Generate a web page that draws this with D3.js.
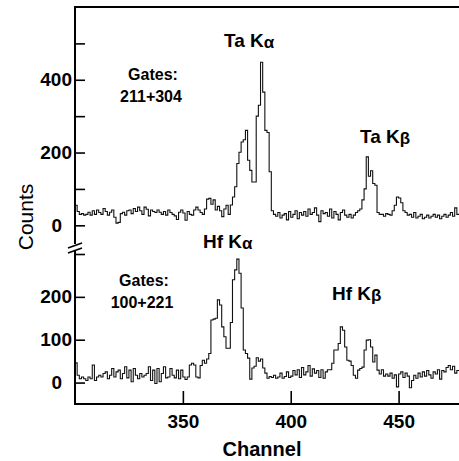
<!DOCTYPE html>
<html>
<head>
<meta charset="utf-8">
<script src="https://cdn.jsdelivr.net/npm/d3@7"></script>
<style>
  body { margin: 0; background: #fff; }
  text { font-family: "Liberation Sans", Arial, sans-serif; }
</style>
</head>
<body>
<div id="chart"></div>
<script>
// first channel of both spectra, one count per channel
var firstChannel = 300;

// upper spectrum, gates 211+304 (channels 300..477)
var topCounts = [
  55, 38, 30, 32, 28, 30, 36, 28, 40, 30,
  42, 35, 30, 46, 38, 28, 36, 42, 22, 6,
  8, 32, 36, 28, 40, 42, 32, 46, 38, 50,
  40, 30, 50, 44, 26, 42, 38, 35, 42, 36,
  30, 38, 28, 42, 35, 30, 26, 16, 36, 42,
  34, 14, 38, 30, 28, 42, 50, 42, 35, 30,
  45, 72, 74, 58, 70, 42, 52, 40, 24, 45,
  55, 30,
  56, 78, 106, 170, 201, 229, 235, 261, 179, 151,
  119, 119, 300, 330, 448, 366, 261, 255, 147, 40,
  30, 25, 35, 20, 28, 32, 15, 38, 22, 30,
  40, 18, 35, 28, 38, 25, 45, 30, 35, 48,
  28, 10, 40, 32, 35, 25, 45, 20, 38, 30,
  15, 35, 42, 28, 22, 30, 20, 28, 35, 40,
  45, 70, 100, 188, 135, 150, 115, 110, 35, 30,
  30, 25, 32,
  30, 28, 40, 55, 78, 75, 62, 40, 35, 28,
  30, 22, 35, 20, 25, 30, 18, 22, 28, 20,
  25, 30, 22, 28, 18, 25, 30, 22, 28, 35,
  25, 48, 30
];

// lower spectrum, gates 100+221 (channels 300..477)
var bottomCounts = [
  46, 17, 9, 13, 9, 5, 13, 9, 41, 5,
  13, 17, 13, 21, 25, 9, 17, 33, 13, 25,
  29, 9, 21, 37, 11, 29, 2, 33, 17, 9,
  21, 13, 17, 21, 37, 5, 29, -2, 33, 2,
  21, 37, 11, 13, 33, 17, 11, 29, 9, 29,
  13, 7, 13, 41, 45, 41, 13, 11, 40, 52,
  45, 55, 68, 146, 148, 150, 193, 181, 130, 107,
  80, 80,
  140, 240, 263, 288, 255, 174, 76, 68, 57, 8,
  34, 38, 58, 50, 55, 34, 22, 10, 14, 12,
  17, 10, 13, 22, 10, 14, 25, 12, 15, 28,
  18, 30, 12, 35, 18, 25, 40, 15, 32, 22,
  28, 12, 30, 10, 25, 30,
  30, 45, 76, 76, 91, 130, 122, 83, 52, 50,
  40, 17, 10, 29, 33, 36, 76, 99, 100, 83,
  48, 64, 29, 20, 30, 15, 20,
  15, 22, 10, 18, -10, 20, 25, 12, 22, 15,
  -12, 5, 17, 10, 22, 13, 25, 15, 28, 18,
  10, 25, 20, 30, 8, 28, 25, 35, 40, 30,
  38, 22, 28
];

var xTicks = [350, 400, 450];
var topTicks = [0, 100, 200, 300, 400, 500];
var topLabels = [0, 200, 400];
var bottomTicks = [0, 100, 200, 300];
var bottomLabels = [0, 100, 200];

var width = 459, height = 461;

var svg = d3.select("#chart").append("svg")
  .attr("width", width)
  .attr("height", height);

var x = d3.scaleLinear().domain([300, 478]).range([75, 459]);
var yTop = d3.scaleLinear().domain([-50, 600]).range([243.5, 7]);
var yBot = d3.scaleLinear().domain([-50, 300]).range([404, 254]);

// spectra as step lines
function spectrum(counts, y) {
  var pts = counts.map(function (c, i) { return [firstChannel + i, c]; });
  pts.push([firstChannel + counts.length, counts[counts.length - 1]]);
  return d3.line()
    .x(function (d) { return x(d[0]); })
    .y(function (d) { return y(d[1]); })
    .curve(d3.curveStepAfter)(pts);
}

svg.append("path")
  .attr("d", spectrum(topCounts, yTop))
  .attr("fill", "none")
  .attr("stroke", "#111")
  .attr("stroke-width", 1.1);

svg.append("path")
  .attr("d", spectrum(bottomCounts, yBot))
  .attr("fill", "none")
  .attr("stroke", "#111")
  .attr("stroke-width", 1.1);

// frame lines
svg.append("line").attr("x1", 75).attr("x2", 459).attr("y1", 7).attr("y2", 7)
  .attr("stroke", "#000").attr("stroke-width", 2);
svg.append("line").attr("x1", 75).attr("x2", 459).attr("y1", 404).attr("y2", 404)
  .attr("stroke", "#000").attr("stroke-width", 2);
svg.append("line").attr("x1", 75).attr("x2", 75).attr("y1", 6).attr("y2", 244)
  .attr("stroke", "#000").attr("stroke-width", 2);
svg.append("line").attr("x1", 75).attr("x2", 75).attr("y1", 251).attr("y2", 405)
  .attr("stroke", "#000").attr("stroke-width", 2);

// axis break
[0, 5].forEach(function (o) {
  svg.append("line")
    .attr("x1", 68).attr("y1", 248 + o)
    .attr("x2", 82).attr("y2", 243 + o)
    .attr("stroke", "#000").attr("stroke-width", 1.6);
});

function styleAxis(g, size) {
  g.select(".domain").remove();
  g.selectAll(".tick line").attr("stroke", "#000").attr("stroke-width", 1.6);
  g.selectAll("text")
    .attr("fill", "#000")
    .style("font-size", size + "px")
    .style("font-weight", "bold")
    .style("font-family", "'Liberation Sans', Arial, sans-serif");
}

// y ticks, pointing inward
svg.append("g").attr("transform", "translate(75,0)")
  .call(d3.axisRight(yTop).tickValues(topTicks).tickSize(10).tickFormat(""))
  .call(styleAxis, 19);
svg.append("g").attr("transform", "translate(75,0)")
  .call(d3.axisRight(yBot).tickValues(bottomTicks).tickSize(10).tickFormat(""))
  .call(styleAxis, 19);

// y labels
var gTopLab = svg.append("g").attr("transform", "translate(75,0)")
  .call(d3.axisLeft(yTop).tickValues(topLabels).tickSize(0).tickPadding(3))
  .call(styleAxis, 19);
var gBotLab = svg.append("g").attr("transform", "translate(75,0)")
  .call(d3.axisLeft(yBot).tickValues(bottomLabels).tickSize(0).tickPadding(3))
  .call(styleAxis, 19);
[gTopLab, gBotLab].forEach(function (g) {
  g.selectAll(".tick text").filter(function (d) { return d === 0; }).attr("x", -13);
});

// x ticks
svg.append("g").attr("transform", "translate(0,404)")
  .call(d3.axisTop(x).tickValues(xTicks).tickSize(13).tickFormat(""))
  .call(styleAxis, 19);
svg.append("g").attr("transform", "translate(0,404)")
  .call(d3.axisBottom(x).tickValues(xTicks).tickSize(0).tickPadding(10.5))
  .call(styleAxis, 19);

// axis titles
svg.append("text")
  .attr("x", 262).attr("y", 456)
  .attr("text-anchor", "middle")
  .style("font-size", "20px").style("font-weight", "bold")
  .text("Channel");

svg.append("text")
  .attr("transform", "translate(33,217) rotate(-90)")
  .attr("text-anchor", "middle")
  .style("font-size", "21px")
  .text("Counts");

// peak labels
function peakLabel(px, py, main, greek) {
  var t = svg.append("text").attr("x", px).attr("y", py)
    .style("font-weight", "bold");
  t.append("tspan").style("font-size", "19px").text(main);
  t.append("tspan").style("font-size", "17px").attr("dy", 1).text(greek);
}
peakLabel(224, 47, "Ta K", "α");
peakLabel(360, 143, "Ta K", "β");
peakLabel(203, 248, "Hf K", "α");
peakLabel(332, 300, "Hf K", "β");

// gate labels
function gateLabel(cx, py, gates) {
  svg.append("text").attr("x", cx).attr("y", py)
    .attr("text-anchor", "middle")
    .style("font-size", "16px").style("font-weight", "bold")
    .text("Gates:");
  svg.append("text").attr("x", cx - 2).attr("y", py + 22)
    .attr("text-anchor", "middle")
    .style("font-size", "16px").style("font-weight", "bold")
    .text(gates);
}
gateLabel(153, 80, "211+304");
gateLabel(144, 286, "100+221");
</script>
</body>
</html>
